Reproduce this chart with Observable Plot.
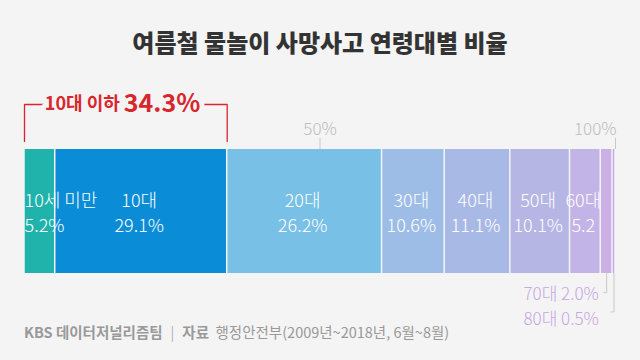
<!DOCTYPE html>
<html>
<head>
<meta charset="utf-8">
<script src="https://cdn.jsdelivr.net/npm/d3@7"></script>
<script src="https://cdn.jsdelivr.net/npm/@observablehq/plot@0.6"></script>
<style>
  html, body { margin: 0; padding: 0; background: #f4f4f4; }
  #wrap { position: relative; width: 640px; height: 360px; background: #f4f4f4; overflow: hidden;
          font-family: "Noto Sans CJK KR", "Noto Sans", sans-serif; }
  #title { position: absolute; top: 27px; left: 0; width: 640px; text-align: center;
           font-size: 24px; font-weight: 900; color: #333; line-height: 30px; }
  #chart { position: absolute; top: 0; left: 0; }
  #foot { position: absolute; top: 322px; left: 24px; font-size: 14.5px; line-height: 20px; color: #999;
          white-space: nowrap; }
  #foot b { font-weight: 700; }
  #foot .sep { margin: 0 8px; font-weight: 300; }
</style>
</head>
<body>
<div id="wrap">
  <div id="title"></div>
  <div id="chart"></div>
  <div id="foot"></div>
</div>
<script>
// ---- data ----
const title = "여름철 물놀이 사망사고 연령대별 비율";
const ages = ["10세 미만", "10대", "20대", "30대", "40대", "50대", "60대", "70대", "80대"];
const shares = [5.2, 29.1, 26.2, 10.6, 11.1, 10.1, 5.2, 2.0, 0.5];
const valueTexts = ["5.2%", "29.1%", "26.2%", "10.6%", "11.1%", "10.1%", "5.2", "2.0%", "0.5%"];
const colors = ["#1fb3ac", "#0a8dd6", "#79c0e6", "#9dbde6", "#a9b9e6", "#b5b6e4", "#c2b4e6", "#cbb0e6", "#c7a8e6"];
const tickValues = [50, 100];
const tickLabels = ["50%", "100%"];
const groupLabel = "10대 이하";
const groupShare = 34.3;
const groupShareText = "34.3%";
const footSource = "KBS 데이터저널리즘팀";
const footLabel = "자료";
const footText = "행정안전부(2009년~2018년, 6월~8월)";

// ---- derived table ----
const ends = Array.from(d3.cumsum(shares));
const rows = ages.map((age, i) => ({
  age,
  value: shares[i],
  start: ends[i] - shares[i],
  end: ends[i],
  mid: ends[i] - shares[i] / 2,
  label: age + "\n" + valueTexts[i],
  outside: age + " " + valueTexts[i]
}));
const ticks = tickValues.map((v, i) => ({v, label: tickLabels[i]}));

document.getElementById("title").textContent = title;
document.getElementById("foot").innerHTML =
  `<b>${footSource}</b><span class="sep">|</span><b>${footLabel}</b>&nbsp; ${footText}`;

const red = "#d9262c";
const bg = "#f4f4f4";
const font = "'Noto Sans CJK KR', 'Noto Sans', sans-serif";

const inside = rows.slice(0, 7);
const outsideRows = rows.slice(7);

const chart = Plot.plot({
  width: 640,
  height: 360,
  marginLeft: 24,
  marginRight: 25,
  marginTop: 149,
  marginBottom: 87,
  x: {domain: [0, 100], axis: null},
  y: {domain: [0, 1], axis: null},
  color: {domain: ages, range: colors},
  style: {background: "transparent", fontFamily: font, overflow: "visible"},
  marks: [
    // bars
    Plot.barX(rows, {x1: "start", x2: "end", fill: "age", insetLeft: 0.75, insetRight: 0.75}),
    // tick marks above bar
    Plot.ruleX(ticks, {x: "v", y1: 1, y2: 1.09, stroke: "#c8c8c8", strokeWidth: 1}),
    Plot.text(ticks.filter(d => d.v < 100), {x: "v", y: 1.16, text: "label", fill: "#bdbdbd",
      fontSize: 17, fontWeight: 300, textAnchor: "middle"}),
    Plot.text(ticks.filter(d => d.v === 100), {x: "v", y: 1.16, text: "label", fill: "#bdbdbd",
      fontSize: 17, fontWeight: 300, textAnchor: "end", dx: 1}),
    // labels inside bars
    Plot.text(inside.slice(0, 1), {x: "start", text: "label", fill: "white", fontSize: 18,
      fontWeight: 300, lineHeight: 1.42, textAnchor: "start"}),
    Plot.text(inside.slice(1), {x: "mid", text: "label", fill: "white", fontSize: 18,
      fontWeight: 300, lineHeight: 1.42, textAnchor: "middle", dx: -2}),
    // leaders for small segments
    Plot.line(outsideRows.flatMap((d, i) => [
      {k: i, x: d.mid, y: 0},
      {k: i, x: d.mid, y: [-0.155, -0.31][i]},
      {k: i, x: d.mid - 0.5, y: [-0.155, -0.31][i]}
    ]), {x: "x", y: "y", z: "k", stroke: "#c8c8c8", strokeWidth: 1}),
    Plot.text(outsideRows, {x: outsideRows[0].start, y: (d, i) => [-0.172, -0.37][i], text: "outside",
      fill: "#c6a6e4", fontSize: 17, fontWeight: 300, textAnchor: "end", dx: -2}),
    // red bracket for ≤ teens
    Plot.line([
      {x: 0, y: 1.065}, {x: 0, y: 1.363}, {x: groupShare, y: 1.363}, {x: groupShare, y: 1.065}
    ], {x: "x", y: "y", stroke: red, strokeWidth: 1.3}),
    Plot.text([groupLabel], {x: groupShare / 2, y: 1.363, text: d => d, fill: red, fontSize: 18,
      fontWeight: 700, textAnchor: "end", dx: -6, stroke: bg, strokeWidth: 10}),
    Plot.text([groupShareText], {x: groupShare / 2, y: 1.363, text: d => d, fill: red, fontSize: 25,
      fontWeight: 700, textAnchor: "start", dx: -2, stroke: bg, strokeWidth: 10})
  ]
});
document.getElementById("chart").appendChild(chart);
</script>
</body>
</html>
